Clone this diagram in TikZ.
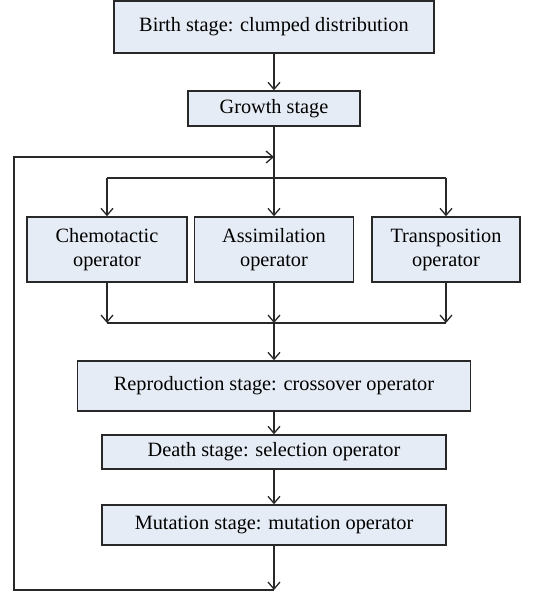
\documentclass[tikz,border=0pt]{standalone}
\usepackage{fontspec}
\setmainfont{Liberation Serif}
\usetikzlibrary{arrows.meta}

\definecolor{boxfill}{RGB}{230,236,245}
\definecolor{boxline}{RGB}{40,40,40}

\begin{document}
\begin{tikzpicture}
[
	x=1pt,y=-1pt,
	stagebox/.style={rectangle,draw=boxline,fill=boxfill,line width=1.5pt,inner sep=0pt,align=center,font=\fontsize{20.3}{24}\selectfont},
	flow/.style={line width=1.3pt,draw=boxline},
	arr/.style={flow,-{Straight Barb[length=7pt,width=12pt,line width=1.3pt]}}
]

	\useasboundingbox (0,0) rectangle (548,595);

	% stages
	\node[stagebox,minimum width=320pt,minimum height=52pt] (birth) at (274,27) {Birth stage: clumped distribution};
	\node[stagebox,minimum width=172pt,minimum height=35pt] (growth) at (274,108.5) {Growth stage};

	\node[stagebox,minimum width=160pt,minimum height=65pt] (chemo) at (107,249.5) {Chemotactic\\operator};
	\node[stagebox,minimum width=159pt,minimum height=65pt] (assim) at (274,249.5) {Assimilation\\operator};
	\node[stagebox,minimum width=148pt,minimum height=65pt] (trans) at (446,249.5) {Transposition\\operator};

	\node[stagebox,minimum width=393pt,minimum height=50pt] (repro) at (274,386) {Reproduction stage: crossover operator};
	\node[stagebox,minimum width=344pt,minimum height=34pt] (death) at (274,452) {Death stage: selection operator};
	\node[stagebox,minimum width=344pt,minimum height=40pt] (mut) at (274,525) {Mutation stage: mutation operator};

	% junctions
	\coordinate (loop) at (274,157);
	\coordinate (split) at (274,178);
	\coordinate (merge) at (274,323);
	\coordinate (bot) at (274,590);
	\coordinate (lb) at (14,590);
	\coordinate (lt) at (14,157);

	\draw[arr] (birth) -- (growth);
	\draw[flow] (growth) -- (split);

	% split into operators
	\draw[flow] (chemo.north |- split) -- (trans.north |- split);
	\draw[arr] (chemo.north |- split) -- (chemo);
	\draw[arr] (split) -- (assim);
	\draw[arr] (trans.north |- split) -- (trans);

	% merge
	\draw[arr] (chemo) -- (chemo.south |- merge);
	\draw[arr] (assim) -- (merge);
	\draw[arr] (trans) -- (trans.south |- merge);
	\draw[flow] (chemo.south |- merge) -- (trans.south |- merge);

	\draw[arr] (merge) -- (repro);
	\draw[arr] (repro) -- (death);
	\draw[arr] (death) -- (mut);
	\draw[arr] (mut) -- (bot);

	% feedback
	\draw[arr] (bot) -- (lb) -- (lt) -- (loop);

\end{tikzpicture}
\end{document}
